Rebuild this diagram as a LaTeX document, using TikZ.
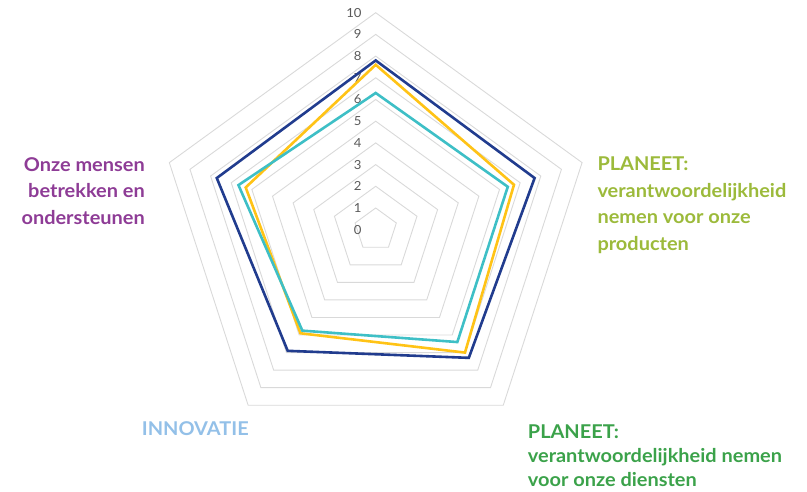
\documentclass[tikz,border=0pt]{standalone}
\usepackage{fontspec}
\setmainfont{Lato}[FakeStretch=1.05]
\definecolor{gridgray}{HTML}{D9D9D9}
\definecolor{numgray}{HTML}{595959}
\definecolor{seriesnavy}{HTML}{213C8E}
\definecolor{seriesyellow}{HTML}{FFC316}
\definecolor{seriesteal}{HTML}{3EBFC6}
\definecolor{catpurple}{HTML}{8E3C96}
\definecolor{catlime}{HTML}{9CBA3B}
\definecolor{catgreen}{HTML}{3BA24A}
\definecolor{catblue}{HTML}{93C0E8}

\begin{document}
\begin{tikzpicture}[x=1pt,y=1pt,
  grid/.style={draw=gridgray, line width=0.9pt},
  series/.style={line width=2.6pt, line join=miter},
  levelnum/.style={text=numgray, font=\fontsize{12.5}{14}\selectfont, anchor=east, inner sep=0pt},
  category/.style={font=\fontsize{19}{26.5}\selectfont\bfseries, inner sep=0pt}]
  \useasboundingbox (0,0) rectangle (807,492);
  \coordinate (center) at (375.7,262.3);

  \begin{scope}[shift={(center)}, x=21.7pt, y=21.7pt]
    \foreach \lvl in {1,...,10}
      \draw [grid] (90:\lvl) -- (18:\lvl) -- (-54:\lvl) -- (-126:\lvl) -- (162:\lvl) -- cycle;
    \foreach \lvl in {0,...,10}
      \node [levelnum] (num\lvl) at (-0.645,\lvl) {\lvl};

    \draw [series, seriesnavy] (90:7.8) -- (18:7.7) -- (-54:7.3) -- (-126:6.9) -- (162:7.7) -- cycle;
    \draw [series, seriesyellow] (90:7.6) -- (18:6.7) -- (-54:7.0) -- (-126:5.9) -- (162:6.3) -- cycle;
    \draw [series, seriesteal] (90:6.3) -- (18:6.4) -- (-54:6.4) -- (-126:5.75) -- (162:6.65) -- cycle;
  \end{scope}

  \node [category, text=catpurple, align=right, anchor=north east] (mensen) at (145,335) {Onze mensen\\betrekken en\\ondersteunen};
  \node [category, text=catlime, align=left, anchor=north west] (producten) at (597.3,335) {PLANEET:\\verantwoordelijkheid\\nemen voor onze\\producten};
  \node [category, text=catgreen, align=left, anchor=north west, font=\fontsize{19}{24}\selectfont\bfseries] (diensten) at (527.7,67.5) {PLANEET:\\verantwoordelijkheid nemen\\voor onze diensten};
  \node [category, text=catblue, anchor=north west] (innovatie) at (141.7,70.3) {INNOVATIE};
\end{tikzpicture}
\end{document}
